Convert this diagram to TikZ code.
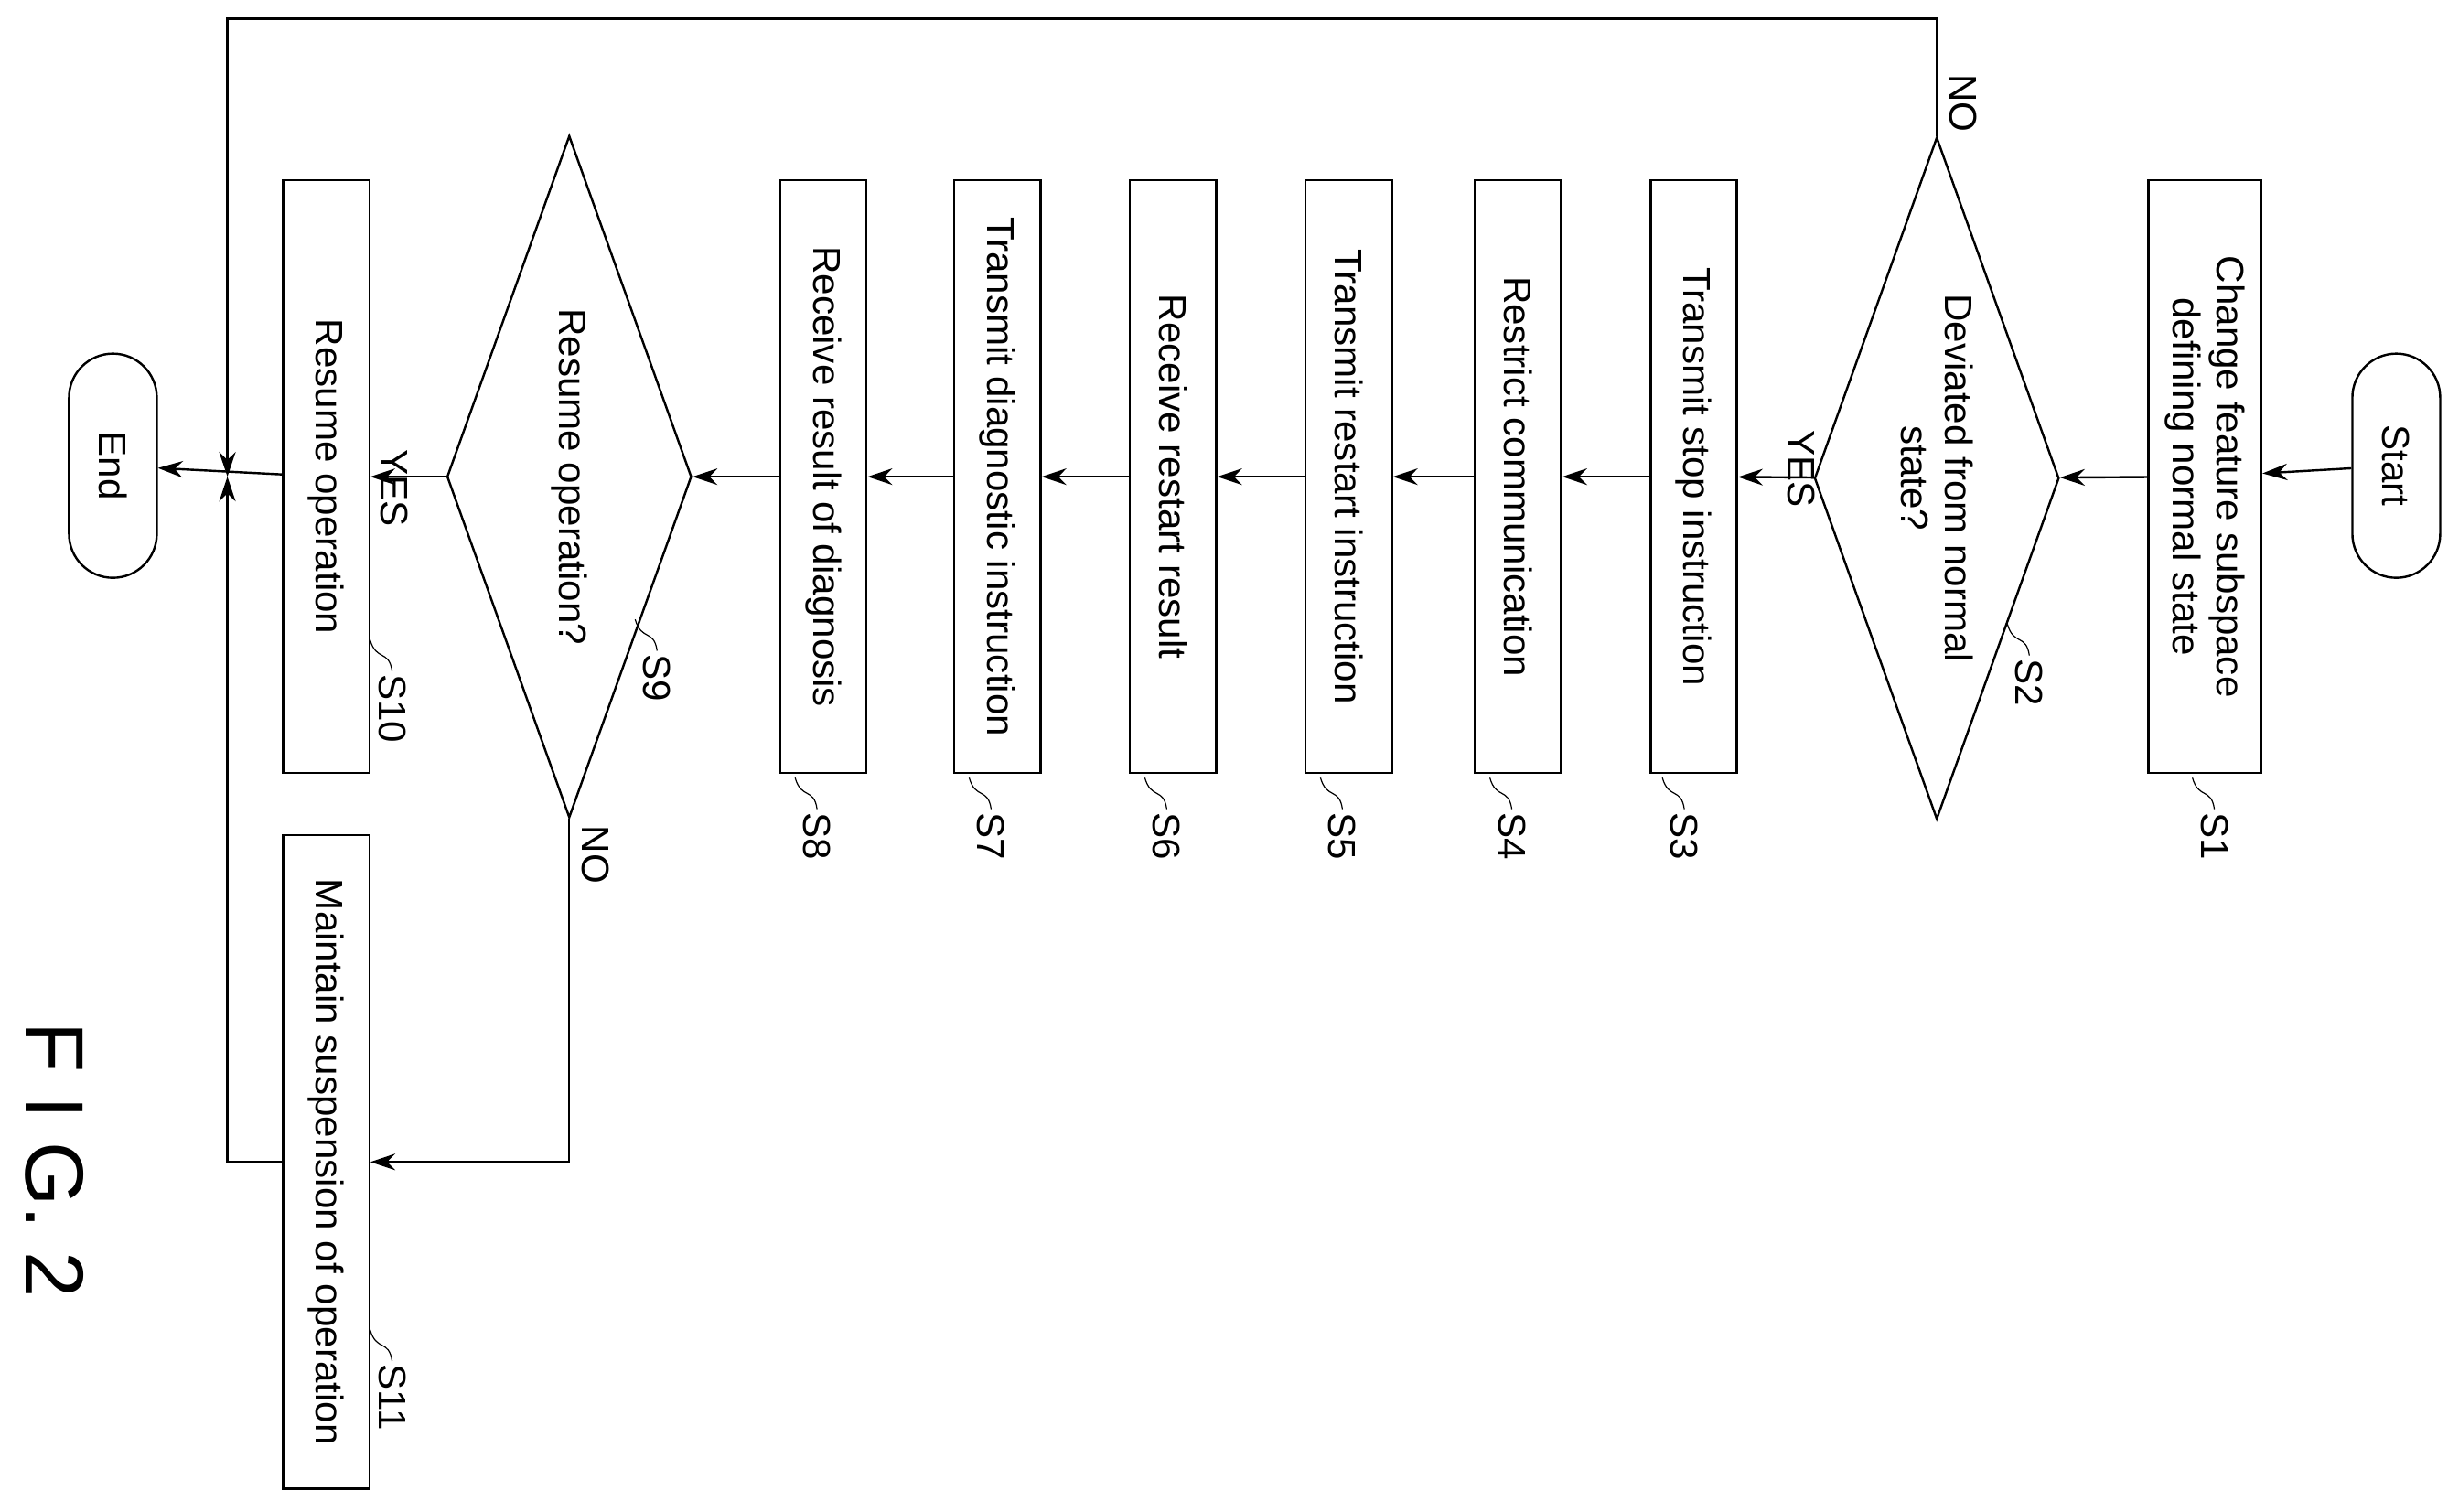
\documentclass[tikz,border=0pt]{standalone}
\usepackage{fontspec}
\setmainfont{Liberation Sans}
\usetikzlibrary{positioning,arrows.meta,shapes.geometric,shapes.misc}
\tikzstyle{stepbox}=[rectangle, draw=black, thick, rotate=-90, minimum width=7.56cm,
                    minimum height=1.1cm, inner sep=2pt, text centered, align=center]
\tikzstyle{decbox}=[diamond, draw=black, thick, rotate=-90, minimum width=8.7cm,
                    minimum height=3.12cm, aspect=2.8, inner sep=0pt, align=center]
\tikzstyle{termbox}=[rounded rectangle, draw=black, thick, rotate=-90, minimum width=3cm,
                    minimum height=1.12cm, inner sep=2pt]
\tikzstyle{lbl}=[rotate=-90, inner sep=1pt]
\tikzstyle{arr}=[-{Stealth[length=9pt,width=6pt]}, thick]
\tikzstyle{pline}=[-, thick]
\newcommand{\steplbl}[4]{\draw[thin] (#1,#2) .. controls (#1+4,#2+14) and (#1+12,#2+6) .. (#1+14,#2+20)
  node[lbl, anchor=west] {#4};}

\begin{document}
\begin{tikzpicture}[x=0.02cm,y=-0.02cm]
\fontsize{14}{16}\selectfont
\useasboundingbox[fill=white] (0,0) rectangle (1568,964);

\node (start) [termbox] at (1528,297) {Start};
\node (s1) [stepbox, minimum height=1.44cm] at (1406,304) {Change feature subspace\\defining normal state};
\node (s2) [decbox] at (1235,305) {Deviated from normal\\state?};
\node (s3) [stepbox] at (1080,304) {Transmit stop instruction};
\node (s4) [stepbox] at (968,304) {Restrict communication};
\node (s5) [stepbox] at (860,304) {Transmit restart instruction};
\node (s6) [stepbox] at (748,304) {Receive restart result};
\node (s7) [stepbox] at (636,304) {Transmit diagnostic instruction};
\node (s8) [stepbox] at (525,304) {Receive result of diagnosis};
\node (s9) [decbox] at (363,304) {Resume operation?};
\node (s10) [stepbox] at (208,304) {Resume operation};
\node (s11) [stepbox, minimum width=8.34cm] at (208,741) {Maintain suspension of operation};
\node (end) [termbox] at (72,297) {End};
\coordinate (merge) at (145,304);

\draw[arr] (start) -- (s1);
\draw[arr] (s1) -- (s2);
\draw[arr] (s2) -- node[lbl, pos=0.4, above=3pt] {YES} (s3);
\draw[arr] (s3) -- (s4);
\draw[arr] (s4) -- (s5);
\draw[arr] (s5) -- (s6);
\draw[arr] (s6) -- (s7);
\draw[arr] (s7) -- (s8);
\draw[arr] (s8) -- (s9);
\draw[arr] (s9) -- node[lbl, pos=0.45, below=4pt] {YES} (s10);
\draw[arr] (s10) -- (end);
\draw[arr] (s2.west) -- ++(0,-75) -| (merge);
\node[lbl] at (1252,66) {NO};
\draw[arr] (s9.east) |- (s11);
\node[lbl] at (380,545) {NO};
\draw[arr] (s11.south) -| (merge);

\steplbl{1398}{496}{}{S1}
\steplbl{1280}{398}{}{S2}
\steplbl{1060}{496}{}{S3}
\steplbl{950}{496}{}{S4}
\steplbl{842}{496}{}{S5}
\steplbl{730}{496}{}{S6}
\steplbl{618}{496}{}{S7}
\steplbl{507}{496}{}{S8}
\steplbl{405}{395}{}{S9}
\steplbl{236}{408}{}{S10}
\steplbl{236}{848}{}{S11}

\node (fig) [lbl] at (35,740) {\fontsize{30}{32}\selectfont F I G. 2};
\end{tikzpicture}
\end{document}
